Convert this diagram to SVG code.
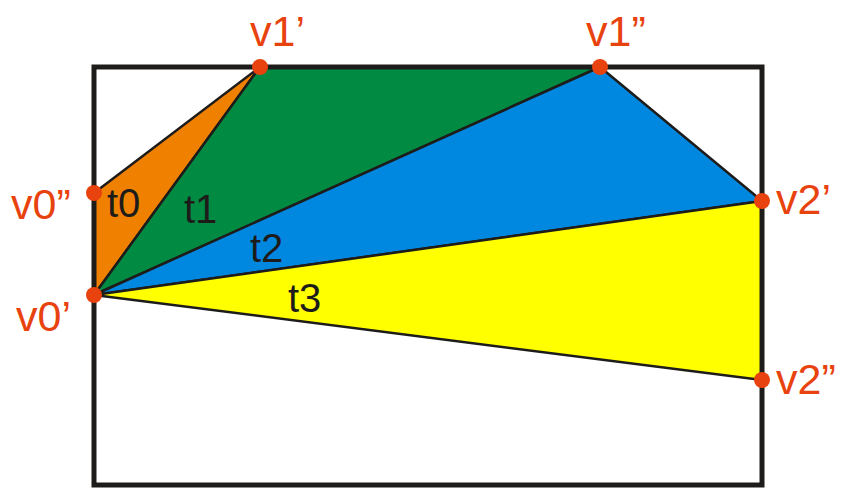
<svg xmlns="http://www.w3.org/2000/svg" width="841" height="488" viewBox="0 0 841 488">
<style>
.tri{stroke:#1e1c1a;stroke-width:2.5;stroke-linejoin:round}
.pt{fill:#e8420e}
.lbl{font-family:"Liberation Sans",Arial,sans-serif;font-size:43px;fill:#e8420e}
.tl{font-family:"Liberation Sans",Arial,sans-serif;font-size:40px;fill:#1e1c1a}
</style>
<rect x="0" y="0" width="841" height="488" fill="#ffffff"/>
<g id="triangles">
<polygon id="t0" class="tri" fill="#f08000" points="94,193 260,67 94,295"/>
<polygon id="t1" class="tri" fill="#008a42" points="94,295 260,67 600,67"/>
<polygon id="t2" class="tri" fill="#0088e0" points="94,295 600,67 762,201"/>
<polygon id="t3" class="tri" fill="#ffff00" points="94,295 762,201 762,380"/>
</g>
<rect id="frame" x="94" y="67" width="668" height="418" fill="none" stroke="#1e1c1a" stroke-width="5"/>
<g id="points">
<circle class="pt" cx="260" cy="67" r="8"/>
<circle class="pt" cx="600" cy="67" r="8"/>
<circle class="pt" cx="94" cy="193" r="8"/>
<circle class="pt" cx="94" cy="295" r="8"/>
<circle class="pt" cx="762" cy="201" r="8"/>
<circle class="pt" cx="762" cy="380" r="8"/>
</g>
<g id="labels">
<text class="lbl" x="250" y="46">v1’</text>
<text class="lbl" x="586" y="46">v1”</text>
<text class="lbl" x="11" y="219">v0”</text>
<text class="lbl" x="16" y="331">v0’</text>
<text class="lbl" x="776" y="214">v2’</text>
<text class="lbl" x="776" y="394">v2”</text>
<text class="tl" x="107" y="217">t0</text>
<text class="tl" x="184" y="223">t1</text>
<text class="tl" x="250" y="262">t2</text>
<text class="tl" x="288" y="312">t3</text>
</g>
</svg>
